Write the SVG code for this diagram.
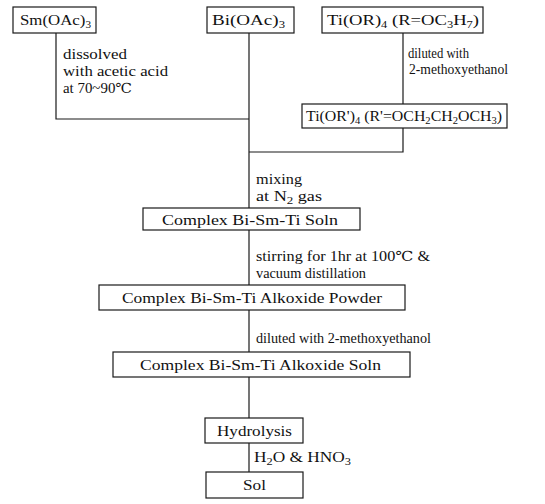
<svg xmlns="http://www.w3.org/2000/svg" width="545" height="504" viewBox="0 0 545 504">
<style>
  .box { fill: #ffffff; stroke: #1a1a1a; stroke-width: 1.2; }
  .conn { fill: none; stroke: #1a1a1a; stroke-width: 1.2; }
  text { font-family: "Liberation Serif", "DejaVu Serif", serif; font-size: 15px; fill: #111111; }
  .note { font-size: 14px; }
  .sub { font-size: 10px; }
</style>
<rect x="0" y="0" width="545" height="504" fill="#ffffff"/>

<g id="connectors">
  <polyline class="conn" points="56,33 56,119 249,119"/>
  <line class="conn" x1="249" y1="33" x2="249" y2="208"/>
  <line class="conn" x1="403" y1="33" x2="403" y2="104"/>
  <polyline class="conn" points="403,128 403,152 249,152"/>
  <line class="conn" x1="249" y1="230" x2="249" y2="285"/>
  <line class="conn" x1="249" y1="310" x2="249" y2="352"/>
  <line class="conn" x1="249" y1="377" x2="249" y2="418"/>
  <line class="conn" x1="249" y1="443" x2="249" y2="472"/>
</g>

<g id="labels">
  <text class="note" x="63" y="59" textLength="64" lengthAdjust="spacingAndGlyphs">dissolved</text>
  <text class="note" x="63" y="76" textLength="105" lengthAdjust="spacingAndGlyphs">with acetic acid</text>
  <text class="note" x="63" y="93" textLength="69" lengthAdjust="spacingAndGlyphs">at 70~90℃</text>
  <text class="note" x="408" y="58" textLength="61" lengthAdjust="spacingAndGlyphs">diluted with</text>
  <text class="note" x="409" y="74" textLength="99" lengthAdjust="spacingAndGlyphs">2-methoxyethanol</text>
  <text class="note" x="256" y="184" textLength="46" lengthAdjust="spacingAndGlyphs">mixing</text>
  <text class="note" x="256" y="201" textLength="66" lengthAdjust="spacingAndGlyphs">at N<tspan class="sub" dy="3">2</tspan><tspan dy="-3"> gas</tspan></text>
  <text class="note" x="256" y="261" textLength="174" lengthAdjust="spacingAndGlyphs">stirring for 1hr at 100℃ &amp;</text>
  <text class="note" x="256" y="278" textLength="110" lengthAdjust="spacingAndGlyphs">vacuum distillation</text>
  <text class="note" x="256" y="343" textLength="175" lengthAdjust="spacingAndGlyphs">diluted with 2-methoxyethanol</text>
  <text class="note" x="254" y="462" textLength="97" lengthAdjust="spacingAndGlyphs">H<tspan class="sub" dy="3">2</tspan><tspan dy="-3">O &amp; HNO</tspan><tspan class="sub" dy="3">3</tspan></text>
</g>

<g id="node-sm">
  <rect class="box" x="13" y="7" width="83" height="26"/>
  <text x="20" y="25" textLength="71" lengthAdjust="spacingAndGlyphs">Sm(OAc)<tspan class="sub" dy="3">3</tspan></text>
</g>

<g id="node-bi">
  <rect class="box" x="207" y="7" width="87" height="26"/>
  <text x="212" y="25" textLength="73" lengthAdjust="spacingAndGlyphs">Bi(OAc)<tspan class="sub" dy="3">3</tspan></text>
</g>

<g id="node-ti">
  <rect class="box" x="322" y="7" width="161" height="26"/>
  <text x="327" y="25" textLength="152" lengthAdjust="spacingAndGlyphs">Ti(OR)<tspan class="sub" dy="3">4</tspan><tspan dy="-3"> (R=OC</tspan><tspan class="sub" dy="3">3</tspan><tspan dy="-3">H</tspan><tspan class="sub" dy="3">7</tspan><tspan dy="-3">)</tspan></text>
</g>

<g id="node-ti2">
  <rect class="box" x="302" y="104" width="205" height="24"/>
  <text x="306" y="121" textLength="196" lengthAdjust="spacingAndGlyphs">Ti(OR')<tspan class="sub" dy="3">4</tspan><tspan dy="-3"> (R'=OCH</tspan><tspan class="sub" dy="3">2</tspan><tspan dy="-3">CH</tspan><tspan class="sub" dy="3">2</tspan><tspan dy="-3">OCH</tspan><tspan class="sub" dy="3">3</tspan><tspan dy="-3">)</tspan></text>
</g>

<g id="node-soln">
  <rect class="box" x="143" y="208" width="217" height="22"/>
  <text x="162" y="225" textLength="176" lengthAdjust="spacingAndGlyphs">Complex Bi-Sm-Ti Soln</text>
</g>

<g id="node-powder">
  <rect class="box" x="99" y="285" width="306" height="25"/>
  <text x="122" y="303" textLength="260" lengthAdjust="spacingAndGlyphs">Complex Bi-Sm-Ti Alkoxide Powder</text>
</g>

<g id="node-alkoxide-soln">
  <rect class="box" x="113" y="352" width="297" height="25"/>
  <text x="140" y="370" textLength="241" lengthAdjust="spacingAndGlyphs">Complex Bi-Sm-Ti Alkoxide Soln</text>
</g>

<g id="node-hydrolysis">
  <rect class="box" x="205" y="418" width="98" height="25"/>
  <text x="217" y="436" textLength="75" lengthAdjust="spacingAndGlyphs">Hydrolysis</text>
</g>

<g id="node-sol">
  <rect class="box" x="206" y="472" width="97" height="26"/>
  <text x="243" y="490" textLength="23" lengthAdjust="spacingAndGlyphs">Sol</text>
</g>
</svg>
